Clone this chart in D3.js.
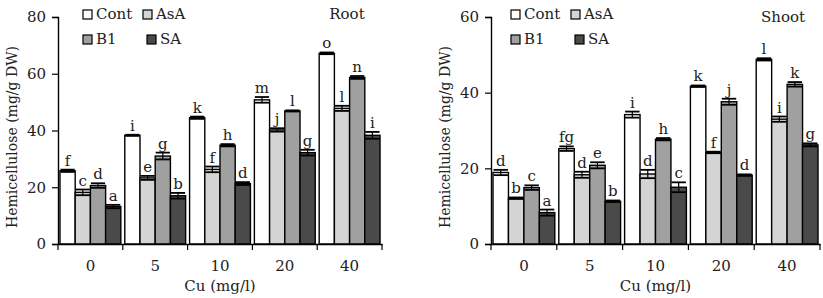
<!DOCTYPE html>
<html>
<head>
<meta charset="utf-8">
<title>Hemicellulose - Root and Shoot</title>
<script src="https://cdn.jsdelivr.net/npm/d3@7"></script>
<style>
  body { margin: 0; background: #fff; }
  svg text { font-family: "DejaVu Serif", serif !important; }
</style>
</head>
<body>
<div id="viz"></div>
<script>
// data
var doses = ["0", "5", "10", "20", "40"];
var treatments = ["Cont", "AsA", "B1", "SA"];

var rootValues = [
  [25.8, 18.2, 20.6, 13.2],
  [38.3, 23.3, 31.0, 17.0],
  [44.5, 26.3, 34.8, 21.3],
  [50.8, 40.2, 46.9, 32.2],
  [67.2, 47.8, 58.7, 38.3]
];
var rootErrors = [
  [0.4, 1.0, 0.8, 0.6],
  [0.2, 0.7, 1.2, 1.0],
  [0.4, 1.0, 0.4, 0.5],
  [1.0, 0.6, 0.2, 1.0],
  [0.3, 0.9, 0.5, 1.2]
];
var rootLetters = [
  ["f", "c", "d", "a"],
  ["i", "e", "g", "b"],
  ["k", "f", "h", "d"],
  ["m", "j", "l", "g"],
  ["o", "l", "n", "i"]
];

var shootValues = [
  [18.9, 12.1, 14.9, 8.3],
  [25.2, 18.3, 20.8, 11.3],
  [34.2, 18.5, 27.7, 15.0],
  [41.7, 24.2, 37.6, 18.2],
  [48.8, 33.0, 42.2, 26.2]
];
var shootErrors = [
  [0.7, 0.2, 0.6, 0.8],
  [0.6, 0.8, 0.8, 0.2],
  [0.8, 1.1, 0.3, 1.3],
  [0.2, 0.2, 0.8, 0.2],
  [0.3, 0.7, 0.6, 0.4]
];
var shootLetters = [
  ["d", "b", "c", "a"],
  ["fg", "d", "e", "b"],
  ["i", "d", "h", "c"],
  ["k", "f", "j", "d"],
  ["l", "i", "k", "g"]
];

var rootTicks = [0, 20, 40, 60, 80];
var shootTicks = [0, 20, 40, 60];

var colors = ["#ffffff", "#d4d4d4", "#a0a0a0", "#4a4a4a"];

var svg = d3.select("#viz").append("svg")
    .attr("width", 823)
    .attr("height", 298);

// draw one panel
function drawPanel(opts) {
  var g = svg.append("g");

  var x = d3.scaleBand().domain(doses).range([opts.left, opts.right]);
  var inner = d3.scaleBand().domain(treatments)
      .range([0, x.bandwidth()]).paddingOuter(0.13).paddingInner(0);
  var y = d3.scaleLinear().domain([0, opts.max]).range([244, 17]);

  // bars
  doses.forEach(function(dose, i) {
    var grp = g.append("g").attr("transform", "translate(" + x(dose) + ",0)");
    treatments.forEach(function(t, j) {
      var v = opts.values[i][j], e = opts.errors[i][j];
      var bx = inner(t), bw = inner.bandwidth();
      grp.append("rect")
        .attr("x", bx).attr("y", y(v))
        .attr("width", bw).attr("height", y(0) - y(v))
        .attr("fill", colors[j])
        .attr("stroke", "#000").attr("stroke-width", 1.4);
      // error bar
      var cx = bx + bw / 2;
      grp.append("line")
        .attr("x1", cx).attr("x2", cx)
        .attr("y1", y(v - e)).attr("y2", y(v + e))
        .attr("stroke", "#000").attr("stroke-width", 1.2);
      [v - e, v + e].forEach(function(ev) {
        grp.append("line")
          .attr("x1", bx + 0.5).attr("x2", bx + bw - 0.5)
          .attr("y1", y(ev)).attr("y2", y(ev))
          .attr("stroke", "#000").attr("stroke-width", 1.8);
      });
      grp.append("text")
        .attr("x", cx).attr("y", y(v + e) - 4)
        .attr("text-anchor", "middle")
        .attr("font-size", 15)
        .attr("fill", "#222")
        .text(opts.letters[i][j]);
    });
  });

  // axes
  g.append("g")
    .attr("transform", "translate(0,244)")
    .call(d3.axisBottom(x).tickSize(0).tickPadding(16))
    .call(function(a) {
      a.select(".domain").attr("stroke", "#000").attr("stroke-width", 1.4);
      a.selectAll("text").attr("font-size", 15).attr("fill", "#222");
    });
  // ticks between groups
  g.append("g").selectAll("line")
    .data(doses.concat(["end"]))
    .join("line")
    .attr("x1", function(d) { return d === "end" ? opts.right : x(d); })
    .attr("x2", function(d) { return d === "end" ? opts.right : x(d); })
    .attr("y1", 244).attr("y2", 250)
    .attr("stroke", "#000").attr("stroke-width", 1.2);

  g.append("g")
    .attr("transform", "translate(" + opts.left + ",0)")
    .call(d3.axisLeft(y).tickValues(opts.ticks).tickSize(6).tickPadding(6))
    .call(function(a) {
      a.select(".domain").attr("stroke", "#000").attr("stroke-width", 1.4);
      a.selectAll(".tick line").attr("stroke", "#000").attr("stroke-width", 1.2);
      a.selectAll("text").attr("font-size", 15).attr("fill", "#222");
    });

  // axis titles
  g.append("text")
    .attr("transform", "translate(" + opts.titleX + ",137) rotate(-90)")
    .attr("text-anchor", "middle")
    .attr("font-size", 14).attr("fill", "#222")
    .text("Hemicellulose (mg/g DW)");
  g.append("text")
    .attr("x", (opts.left + opts.right) / 2).attr("y", 291)
    .attr("text-anchor", "middle")
    .attr("font-size", 15).attr("fill", "#222")
    .text("Cu (mg/l)");

  // panel label
  g.append("text")
    .attr("x", opts.labelX).attr("y", opts.labelY)
    .attr("text-anchor", "middle")
    .attr("font-size", 15).attr("fill", "#222")
    .text(opts.label);

  // legend
  var pos = [[0, 0], [60, 0], [0, 25], [64, 25]];
  treatments.forEach(function(t, j) {
    var lg = g.append("g")
      .attr("transform", "translate(" + (opts.legendX + pos[j][0]) + "," + (opts.legendY + pos[j][1]) + ")");
    lg.append("rect")
      .attr("x", 0).attr("y", -9).attr("width", 9).attr("height", 9)
      .attr("fill", colors[j]).attr("stroke", "#000").attr("stroke-width", 1.2);
    lg.append("text")
      .attr("x", 13).attr("y", 0)
      .attr("font-size", 15).attr("fill", "#222")
      .text(t);
  });
}

drawPanel({
  left: 58, right: 382, max: 80, ticks: rootTicks,
  values: rootValues, errors: rootErrors, letters: rootLetters,
  titleX: 17, label: "Root", labelX: 347, labelY: 19,
  legendX: 83, legendY: 19
});

drawPanel({
  left: 491, right: 820, max: 60, ticks: shootTicks,
  values: shootValues, errors: shootErrors, letters: shootLetters,
  titleX: 450, label: "Shoot", labelX: 783, labelY: 22,
  legendX: 511, legendY: 19
});
</script>
</body>
</html>
